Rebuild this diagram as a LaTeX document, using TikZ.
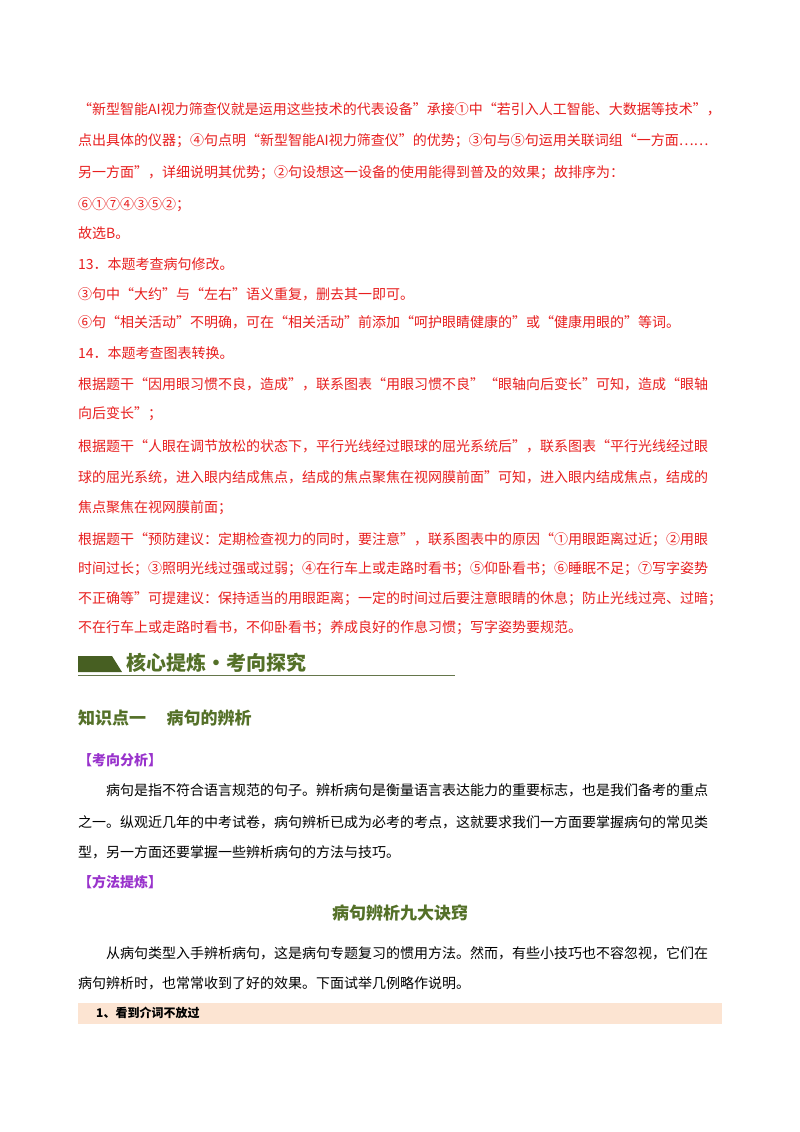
\documentclass[tikz,border=0pt]{standalone}
\usepackage{fontspec}
\setmainfont{Noto Sans CJK SC}
\definecolor{rd}{RGB}{232,30,30}
\definecolor{gr}{RGB}{84,112,40}
\definecolor{pu}{RGB}{153,51,204}
\definecolor{pe}{RGB}{252,228,210}
\begin{document}
\begin{tikzpicture}[x=1pt,y=-1pt,
  t/.style={anchor=west,inner sep=0pt,font=\fontsize{14}{14}\selectfont},
  r/.style={t,text=rd}]
\useasboundingbox (0,0) rectangle (800,1132);
\fill[white] (0,0) rectangle (800,1132);
\node[r] (l1) at (78,109) {“新型智能AI视力筛查仪就是运用这些技术的代表设备”承接①中“若引入人工智能、大数据等技术”，};
\node[r] (l2) at (78,141) {点出具体的仪器；④句点明“新型智能AI视力筛查仪”的优势；③句与⑤句运用关联词组“一方面……};
\node[r] (l3) at (78,173) {另一方面”，详细说明其优势；②句设想这一设备的使用能得到普及的效果；故排序为：};
\node[r] (l4) at (78,205) {⑥①⑦④③⑤②；};
\node[r] (l5) at (78,233) {故选B。};
\node[r] (l6) at (78,264) {13．本题考查病句修改。};
\node[r] (l7) at (78,294) {③句中“大约”与“左右”语义重复，删去其一即可。};
\node[r] (l8) at (78,322) {⑥句“相关活动”不明确，可在“相关活动”前添加“呵护眼睛健康的”或“健康用眼的”等词。};
\node[r] (l9) at (78,353) {14．本题考查图表转换。};
\node[r] (l10) at (78,384) {根据题干“因用眼习惯不良，造成”，联系图表“用眼习惯不良”“眼轴向后变长”可知，造成“眼轴};
\node[r] (l11) at (78,414) {向后变长”；};
\node[r] (l12) at (78,446) {根据题干“人眼在调节放松的状态下，平行光线经过眼球的屈光系统后”，联系图表“平行光线经过眼};
\node[r] (l13) at (78,477) {球的屈光系统，进入眼内结成焦点，结成的焦点聚焦在视网膜前面”可知，进入眼内结成焦点，结成的};
\node[r] (l14) at (78,508) {焦点聚焦在视网膜前面；};
\node[r] (l15) at (78,540) {根据题干“预防建议：定期检查视力的同时，要注意”，联系图表中的原因“①用眼距离过近；②用眼};
\node[r] (l16) at (78,569) {时间过长；③照明光线过强或过弱；④在行车上或走路时看书；⑤仰卧看书；⑥睡眠不足；⑦写字姿势};
\node[r] (l17) at (78,599) {不正确等”可提建议：保持适当的用眼距离；一定的时间过后要注意眼睛的休息；防止光线过亮、过暗；};
\node[r] (l18) at (78,628) {不在行车上或走路时看书，不仰卧看书；养成良好的作息习惯；写字姿势要规范。};
% header
\fill[gr!85!black] (78,656) -- (112,656) -- (122,672) -- (78,672) -- cycle;
\node[t,text=gr,font=\fontsize{20}{20}\selectfont\bfseries] (hd) at (126,663) {核心提炼·考向探究};
\draw[gr!60!gray,line width=0.8pt] (78,675) -- (455,675);
\node[t,text=gr,font=\fontsize{17}{17}\selectfont\bfseries] (k1) at (78,718) {知识点一\hspace{1.2em}病句的辨析};
\node[t,text=pu,font=\fontsize{14}{14}\selectfont\bfseries] (p1) at (78,760) {【考向分析】};
\node[t] (b1) at (106,790) {病句是指不符合语言规范的句子。辨析病句是衡量语言表达能力的重要标志，也是我们备考的重点};
\node[t] (b2) at (78,822) {之一。纵观近几年的中考试卷，病句辨析已成为必考的考点，这就要求我们一方面要掌握病句的常见类};
\node[t] (b3) at (78,852) {型，另一方面还要掌握一些辨析病句的方法与技巧。};
\node[t,text=pu,font=\fontsize{14}{14}\selectfont\bfseries] (p2) at (78,882) {【方法提炼】};
\node[inner sep=0pt,text=gr,font=\fontsize{17}{17}\selectfont\bfseries] (tt) at (400,913) {病句辨析九大诀窍};
\node[t] (b4) at (106,953) {从病句类型入手辨析病句，这是病句专题复习的惯用方法。然而，有些小技巧也不容忽视，它们在};
\node[t] (b5) at (78,983) {病句辨析时，也常常收到了好的效果。下面试举几例略作说明。};
\fill[pe] (78,1003) rectangle (722,1024);
\node[t,font=\fontsize{12}{12}\selectfont\bfseries] (s1) at (96,1013) {1、看到介词不放过};
\end{tikzpicture}
\end{document}
